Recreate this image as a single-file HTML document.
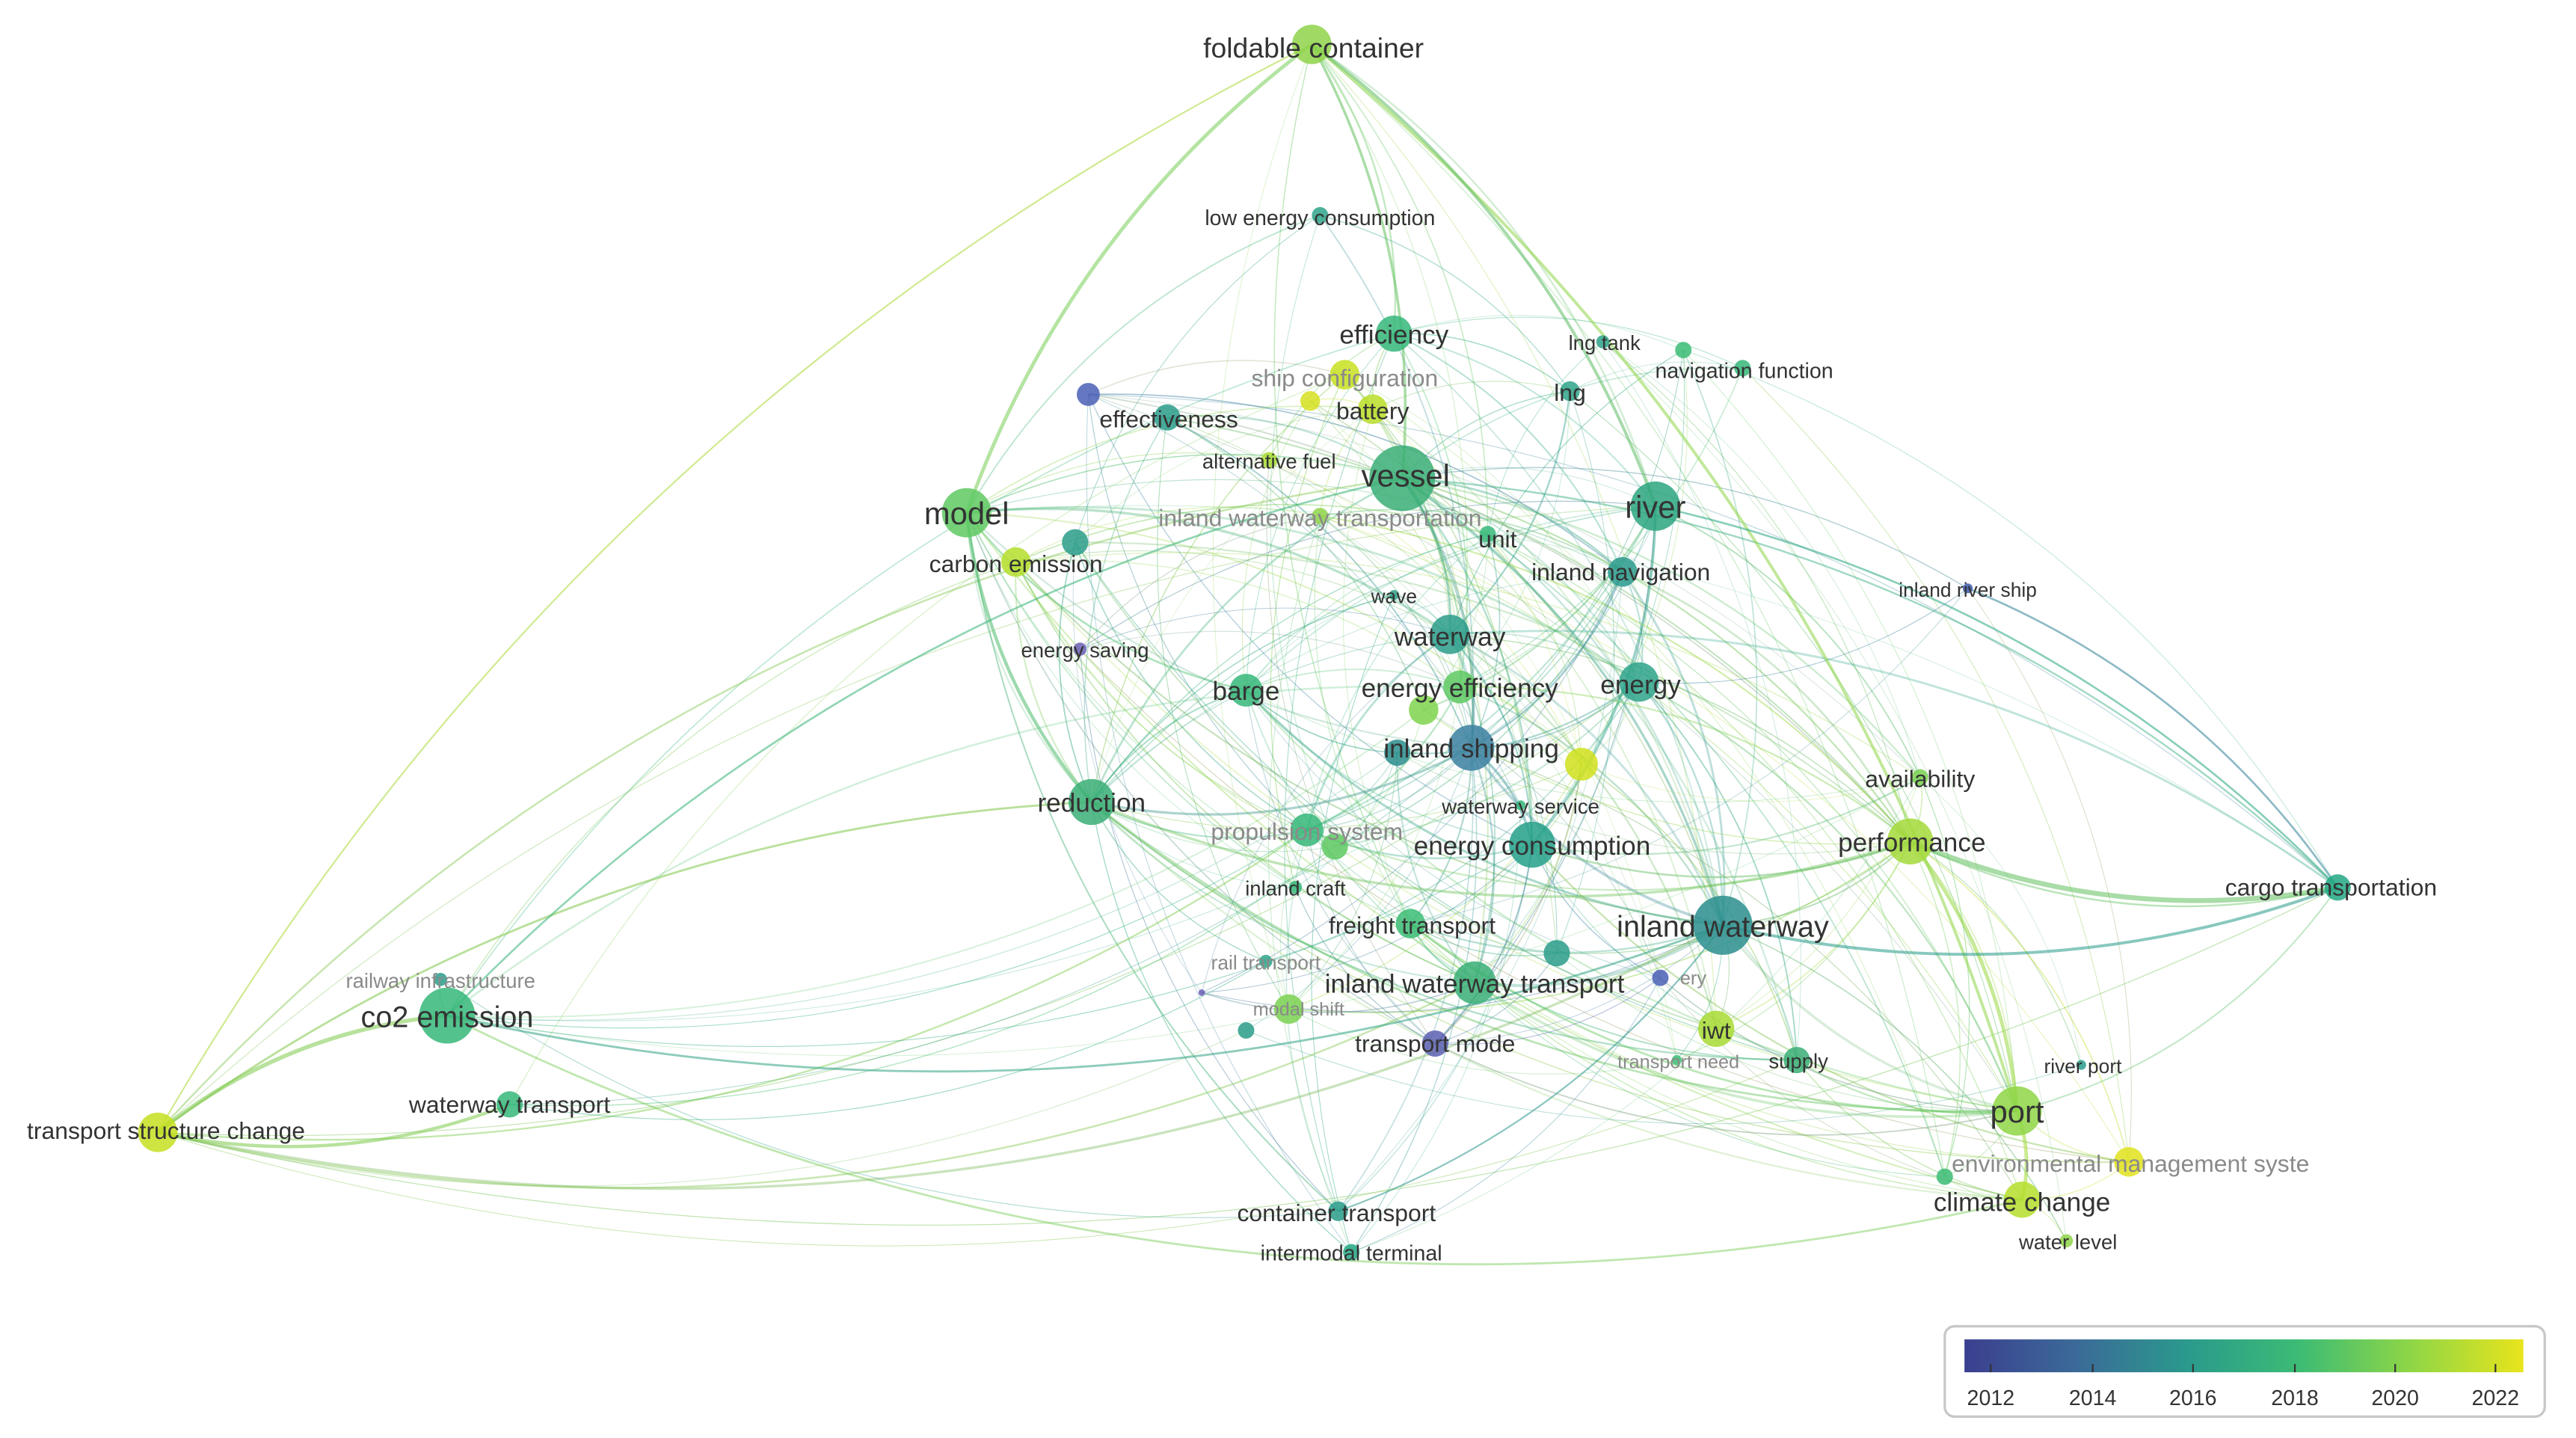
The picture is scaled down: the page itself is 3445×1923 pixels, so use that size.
<!DOCTYPE html>
<html><head><meta charset="utf-8">
<style>
html,body{margin:0;padding:0;background:#fff;}
svg{display:block;}
text{font-family:"Liberation Sans",sans-serif;fill:#333;}
.g{fill:#8a8a8a;}
</style></head>
<body>
<svg id="s" width="3445" height="1923" viewBox="0 0 1567 875" preserveAspectRatio="none" xmlns="http://www.w3.org/2000/svg">
<defs>
<linearGradient id="vir" x1="0" x2="1" y1="0" y2="0">
<stop offset="0" stop-color="#3b3f8f"/><stop offset="0.2" stop-color="#3b6a98"/><stop offset="0.4" stop-color="#2a9a8c"/><stop offset="0.6" stop-color="#3cbc74"/><stop offset="0.8" stop-color="#8fd646"/><stop offset="1" stop-color="#e8e41c"/>
</linearGradient>
</defs>
<g id="edges" fill="none"></g>
<g id="nodes"></g>
<g id="labels" text-anchor="middle">
<text x="799" y="35" font-size="17">foldable container</text>
<text x="803" y="137" font-size="13">low energy consumption</text>
<text x="848" y="209" font-size="16">efficiency</text>
<text x="818" y="235" font-size="14.5" class="g">ship configuration</text>
<text x="976" y="213" font-size="12.5">lng tank</text>
<text x="1061" y="230" font-size="13">navigation function</text>
<text x="955" y="244" font-size="14.5">lng</text>
<text x="711" y="260" font-size="14.5">effectiveness</text>
<text x="835" y="255" font-size="14.5">battery</text>
<text x="772" y="285" font-size="12.5">alternative fuel</text>
<text x="855" y="296" font-size="19">vessel</text>
<text x="1007" y="315" font-size="19">river</text>
<text x="588" y="319" font-size="19">model</text>
<text x="803" y="320" font-size="14.5" class="g">inland waterway transportation</text>
<text x="911" y="333" font-size="14.5">unit</text>
<text x="618" y="348" font-size="14.5">carbon emission</text>
<text x="986" y="353" font-size="14.5">inland navigation</text>
<text x="1197" y="363" font-size="12">inland river ship</text>
<text x="848" y="367" font-size="12">wave</text>
<text x="882" y="393" font-size="16">waterway</text>
<text x="660" y="400" font-size="12.5">energy saving</text>
<text x="758" y="426" font-size="16">barge</text>
<text x="888" y="424" font-size="16">energy efficiency</text>
<text x="998" y="422" font-size="16">energy</text>
<text x="895" y="461" font-size="16">inland shipping</text>
<text x="1168" y="479" font-size="14.5">availability</text>
<text x="664" y="494" font-size="16">reduction</text>
<text x="925" y="495" font-size="12.5">waterway service</text>
<text x="795" y="511" font-size="14.5" class="g">propulsion system</text>
<text x="932" y="520" font-size="16">energy consumption</text>
<text x="1163" y="518" font-size="16">performance</text>
<text x="1418" y="545" font-size="14.5">cargo transportation</text>
<text x="788" y="545" font-size="12.5">inland craft</text>
<text x="1048" y="570" font-size="18">inland waterway</text>
<text x="859" y="568" font-size="14.5">freight transport</text>
<text x="770" y="590" font-size="12" class="g">rail transport</text>
<text x="268" y="601" font-size="12.5" class="g">railway infrastructure</text>
<text x="272" y="625" font-size="18">co2 emission</text>
<text x="897" y="604" font-size="16">inland waterway transport</text>
<text x="1030" y="599" font-size="11.5" class="g">ery</text>
<text x="790" y="618" font-size="11.5" class="g">modal shift</text>
<text x="1044" y="632" font-size="14.5">iwt</text>
<text x="873" y="640" font-size="14.5">transport mode</text>
<text x="1021" y="650" font-size="11.5" class="g">transport need</text>
<text x="1094" y="650" font-size="12.5">supply</text>
<text x="1267" y="653" font-size="12">river port</text>
<text x="101" y="693" font-size="14.5">transport structure change</text>
<text x="310" y="677" font-size="14.5">waterway transport</text>
<text x="1227" y="683" font-size="19">port</text>
<text x="1296" y="713" font-size="14.5" class="g">environmental management syste</text>
<text x="1230" y="737" font-size="16">climate change</text>
<text x="1258" y="760" font-size="12.5">water level</text>
<text x="813" y="743" font-size="14.5">container transport</text>
<text x="822" y="767" font-size="13">intermodal terminal</text>
</g>
<g>
<rect x="1183" y="807" width="365" height="55" rx="6" fill="#fff" stroke="#c8c8c8" stroke-width="1.5"/>
<rect x="1195" y="815" width="340" height="20" fill="url(#vir)"/>
<g stroke="#333" stroke-width="1">
<line x1="1211" y1="830" x2="1211" y2="835"/><line x1="1273" y1="830" x2="1273" y2="835"/><line x1="1334" y1="830" x2="1334" y2="835"/><line x1="1396" y1="830" x2="1396" y2="835"/><line x1="1457" y1="830" x2="1457" y2="835"/><line x1="1518" y1="830" x2="1518" y2="835"/>
</g>
<g text-anchor="middle" font-size="13">
<text x="1211" y="855">2012</text><text x="1273" y="855">2014</text><text x="1334" y="855">2016</text><text x="1396" y="855">2018</text><text x="1457" y="855">2020</text><text x="1518" y="855">2022</text>
</g>
</g>
</svg>
<script>
var N=[
[798,27,12,'#8fd44a',3],[803,131,5,'#2fa38a',2],[848,203,11,'#35b779',3],[818,228,9,'#c8e020',2],[975,208,4,'#2fa38a',1],[1060,224,5,'#35b779',1],[1024,213,5,'#3cbc74',1],
[955,238,6,'#2fa38a',2],[710,254,8,'#2a9c89',2],[662,240,7,'#4a5fb5',2],[835,249,9,'#bade28',2],[797,244,6,'#d6e020',1],[772,280,5,'#a8db34',1],
[853,291,20,'#3aae75',5],[1007,308,15,'#2ca57f',4],[588,312,15,'#5ec962',4],[803,314,5,'#8fd44a',2],[905,325,5,'#35b779',2],[618,342,9,'#b5de2b',2],[654,330,8,'#2a9c89',2],
[987,348,9,'#2a9a8c',3],[1197,358,3,'#3b58a8',1],[848,362,3,'#2fa38a',1],[882,386,12,'#2a9c89',4],[657,395,4,'#6a5fb5',1],[758,420,10,'#35b779',3],[888,418,10,'#5ec962',3],[866,432,9,'#7fd34e',2],
[997,415,12,'#2fa38a',3],[895,455,14,'#3b80a0',4],[962,465,10,'#d0e11c',2],[850,458,8,'#2a8e8d',2],[1168,473,5,'#7ad151',2],[664,488,14,'#3aae75',4],[925,490,3,'#35b779',1],
[795,505,10,'#35b779',3],[812,515,8,'#5ec962',2],[932,514,14,'#25a089',4],[1162,512,14,'#a3d93a',4],[1422,540,8,'#22a884',3],[788,540,4,'#35b779',1],[1048,563,18,'#2a8e8d',5],
[858,562,9,'#3cbc74',3],[770,585,4,'#2fa38a',1],[731,604,2,'#6a5fb5',1],[272,618,17,'#35b779',4],[268,596,4,'#2a9c89',1],[897,598,13,'#3aae75',4],[947,580,8,'#2a9c89',2],[1010,595,5,'#4a5fb5',1],
[784,614,9,'#7ad151',2],[758,627,5,'#2a9c89',1],[1044,626,11,'#a8db34',3],[873,635,8,'#5a5fb0',2],[1020,645,3,'#3cbc74',1],[1093,645,8,'#3aae75',2],[1266,648,3,'#2a9c89',1],
[96,689,12,'#c5df20',3],[310,672,8,'#35b779',2],[1227,676,15,'#8ed645',4],[1295,707,9,'#e0e21c',2],[1183,716,5,'#3cbc74',1],[1230,730,11,'#b5de2b',3],[1257,755,4,'#8fd44a',1],
[814,737,6,'#2a9c89',2],[822,762,5,'#22a884',1]];
function hex(c){return [parseInt(c.substr(1,2),16),parseInt(c.substr(3,2),16),parseInt(c.substr(5,2),16)];}
var seed=12345;function rnd(){seed=(seed*1103515245+12345)%2147483648;return seed/2147483648;}
var E=document.getElementById('edges'),G=document.getElementById('nodes');
var cx=860,cy=430,h='';
function path(a,b,k0,op,w){var dx=b[0]-a[0],dy=b[1]-a[1],L=Math.sqrt(dx*dx+dy*dy);if(L<8)return '';
 var mx=(a[0]+b[0])/2,my=(a[1]+b[1])/2;var nx=-dy/L,ny=dx/L;var s=((mx-cx)*nx+(my-cy)*ny)>0?1:-1;var k=k0*L*s;
 var c1=hex(a[3]),c2=hex(b[3]);var col='rgb('+((c1[0]+c2[0])>>1)+','+((c1[1]+c2[1])>>1)+','+((c1[2]+c2[2])>>1)+')';
 return '<path d="M'+a[0]+' '+a[1]+' Q'+(mx+nx*k).toFixed(1)+' '+(my+ny*k).toFixed(1)+' '+b[0]+' '+b[1]+'" stroke="'+col+'" stroke-opacity="'+op.toFixed(2)+'" stroke-width="'+w.toFixed(2)+'"/>';}
for(var i=0;i<N.length;i++)for(var j=i+1;j<N.length;j++){
 var a=N[i],b=N[j];var dx=b[0]-a[0],dy=b[1]-a[1],L=Math.sqrt(dx*dx+dy*dy);
 var p=0.05*a[4]*b[4]*Math.exp(-L/700);if(rnd()>p)continue;
 h+=path(a,b,0.18,0.22+0.25*rnd(),0.4+0.08*a[4]*b[4]*rnd());
}
var X=[[0,15,2.2],[0,59,1.8],[0,13,1.6],[0,14,1.8],[57,45,2.5],[57,58,2],[38,39,3],[38,59,2.2],[41,39,1.8],[15,33,2],[45,41,1.3],[59,62,2.2],[57,33,1.3],[0,57,1],[45,13,1.2],[21,39,1.2],[14,39,1.2],[64,41,1]];
X.forEach(function(e){h+=path(N[e[0]],N[e[1]],0.15,0.55,e[2]);});
E.innerHTML=h;
var g='';N.forEach(function(n){g+='<circle cx="'+n[0]+'" cy="'+n[1]+'" r="'+n[2]+'" fill="'+n[3]+'" fill-opacity="0.85"/>';});
G.innerHTML=g;
</script>
</body></html>
